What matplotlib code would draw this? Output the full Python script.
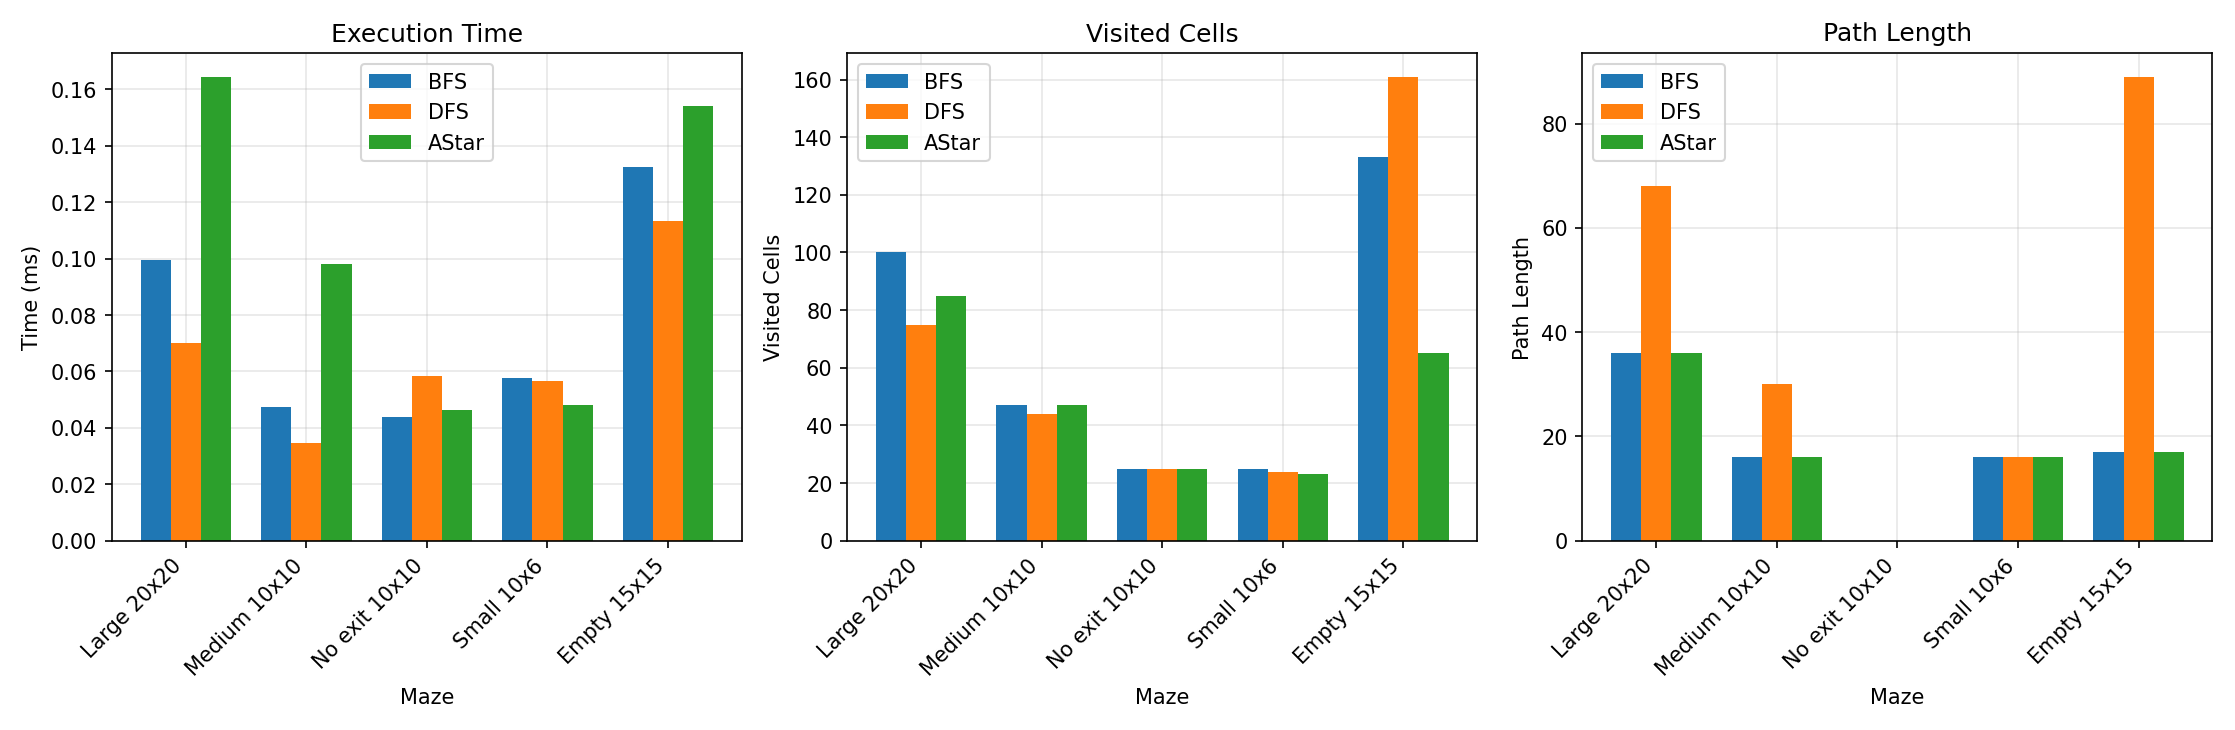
import numpy as np
import matplotlib.pyplot as plt

mazes = ["Large 20x20", "Medium 10x10", "No exit 10x10", "Small 10x6", "Empty 15x15"]
algos = ["BFS", "DFS", "AStar"]

time_bfs = [0.0995, 0.0475, 0.044, 0.0575, 0.1325]
time_dfs = [0.070, 0.0345, 0.0585, 0.0565, 0.1135]
time_astar = [0.1645, 0.098, 0.0465, 0.048, 0.154]

visited_bfs = [100, 47, 25, 25, 133]
visited_dfs = [75, 44, 25, 24, 161]
visited_astar = [85, 47, 25, 23, 65]

path_bfs = [36, 16, 0, 16, 17]
path_dfs = [68, 30, 0, 16, 89]
path_astar = [36, 16, 0, 16, 17]

panels = [
    ("Execution Time", "Time (ms)", [time_bfs, time_dfs, time_astar], "upper center"),
    ("Visited Cells", "Visited Cells", [visited_bfs, visited_dfs, visited_astar], "upper left"),
    ("Path Length", "Path Length", [path_bfs, path_dfs, path_astar], "upper left"),
]

x = np.arange(len(mazes))
w = 0.25

fig, axes = plt.subplots(1, 3, figsize=(14.9, 4.87), dpi=150)
for ax, (title, ylabel, series, loc) in zip(axes, panels):
    for i, (name, vals) in enumerate(zip(algos, series)):
        ax.bar(x + (i - 1) * w, vals, w, label=name)
    ax.set_title(title, fontsize=12)
    ax.set_ylabel(ylabel)
    ax.set_xlabel("Maze")
    ax.set_xticks(x)
    ax.set_xticklabels(mazes, rotation=45, ha="right")
    ax.grid(alpha=0.3)
    ax.set_axisbelow(True)
    ax.legend(loc=loc)

plt.tight_layout()
plt.savefig("out.png")
